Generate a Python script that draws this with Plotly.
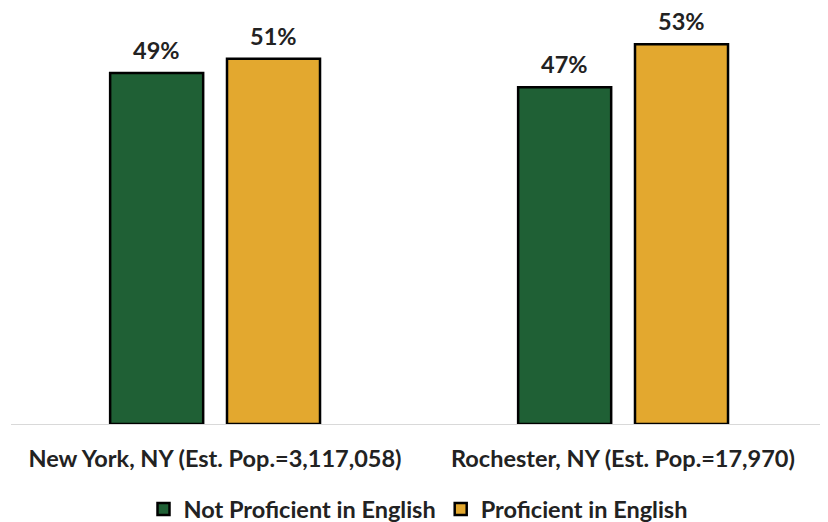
import plotly.graph_objects as go

categories = ["New York, NY (Est. Pop.=3,117,058)", "Rochester, NY (Est. Pop.=17,970)"]
series_names = ["Not Proficient in English", "Proficient in English"]
not_proficient = [49, 47]
proficient = [51, 53]
colors = ["#1F6035", "#E3A82F"]

FONT = "Lato"
FS = 23.5
xs = list(range(len(categories)))
bar_w = 0.228
offsets = [-0.257, 0.0294]

fig = go.Figure()
for name, vals, col, off in zip(series_names, [not_proficient, proficient], colors, offsets):
    fig.add_trace(go.Bar(
        x=xs, y=vals, name=f"<b>{name}</b>", width=bar_w, offset=off,
        marker=dict(color=col, line=dict(color="black", width=2.5)),
        cliponaxis=False,
    ))
    for xi, v in zip(xs, vals):
        fig.add_annotation(x=xi + off + bar_w / 2, y=v, text=f"<b>{v}%</b>",
                           showarrow=False, yanchor="bottom", yshift=7,
                           font=dict(family=FONT, size=FS, color="#222"))

fig.update_layout(
    width=820, height=514,
    margin=dict(l=3, r=1, t=22, b=98, autoexpand=False),
    paper_bgcolor="white", plot_bgcolor="white",
    barmode="overlay",
    showlegend=True,
    legend=dict(orientation="h", x=0.5, xanchor="center", xref="container",
                y=0.025, yanchor="middle", yref="container",
                font=dict(family=FONT, size=FS, color="#222"), itemwidth=30,
                traceorder="normal"),
    xaxis=dict(tickvals=xs, ticktext=[f"<b>{c}</b>" for c in categories],
               range=[-0.5, 1.5], showgrid=False, zeroline=False,
               showline=True, linecolor="#D9D9D9", linewidth=1,
               tickfont=dict(family=FONT, size=FS, color="#222"), ticks="",
               ticklabelstandoff=14, automargin=False),
    yaxis=dict(range=[0, 55], visible=False, automargin=False),
    font=dict(family=FONT),
)

fig.write_html("out.html")
